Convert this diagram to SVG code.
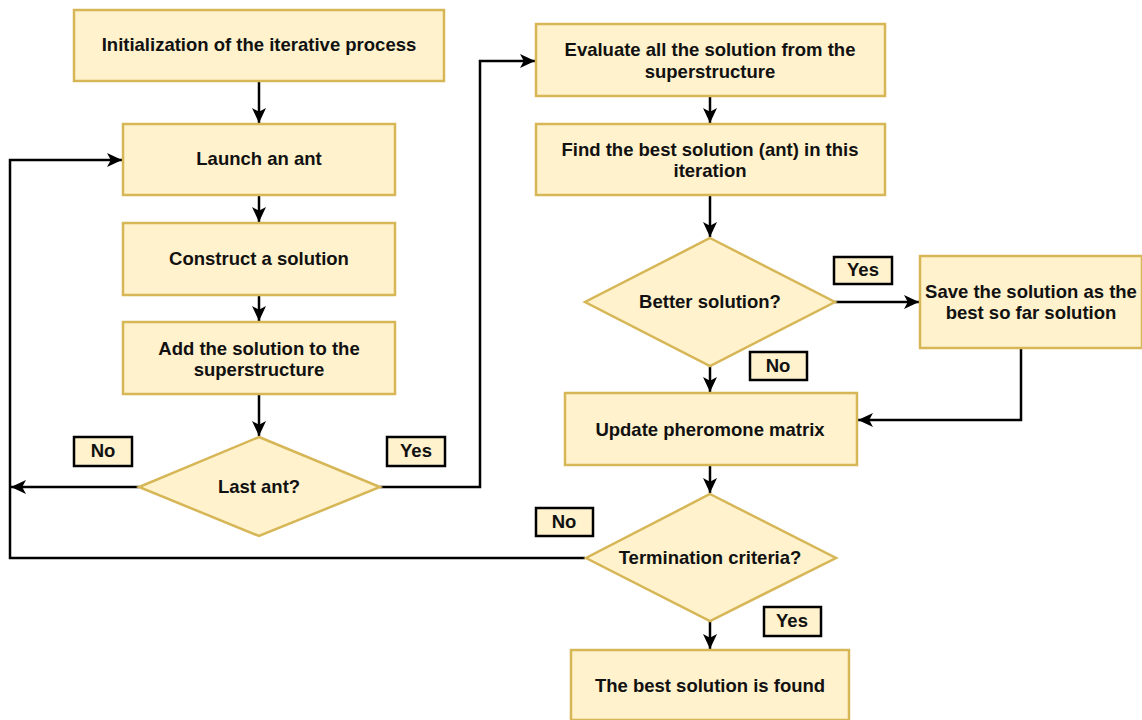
<svg xmlns="http://www.w3.org/2000/svg" width="1142" height="720" viewBox="0 0 1142 720">
  <style>
    .box { fill: #fff2cc; stroke: #d6b656; stroke-width: 2.5; }
    .tag { fill: #fff2cc; stroke: #000; stroke-width: 2.5; }
    .txt { font-family: "Liberation Sans", Arial, sans-serif; font-weight: bold; font-size: 18.5px; fill: #111; text-anchor: middle; }
    .edge { fill: none; stroke: #000; stroke-width: 2.5; }
  </style>
  <defs>
    <marker id="arrow" viewBox="0 0 15 15" refX="15" refY="7.5" markerWidth="15" markerHeight="15" markerUnits="userSpaceOnUse" orient="auto">
      <path d="M0,0.5 L15,7.5 L0,14.5 L3.8,7.5 Z" fill="#000"/>
    </marker>
  </defs>
  <rect width="1142" height="720" fill="#fff"/>

  <!-- connectors -->
  <g id="connectors">
    <path class="edge" d="M259,81 V123" marker-end="url(#arrow)"/>
    <path class="edge" d="M259,195 V222" marker-end="url(#arrow)"/>
    <path class="edge" d="M259,295 V321" marker-end="url(#arrow)"/>
    <path class="edge" d="M259,394 V436" marker-end="url(#arrow)"/>
    <path class="edge" d="M139,487 H11" marker-end="url(#arrow)"/>
    <path class="edge" d="M380,487 H480 V61 H535" marker-end="url(#arrow)"/>
    <path class="edge" d="M585,558 H10 V160 H122" marker-end="url(#arrow)"/>
    <path class="edge" d="M710,96 V123" marker-end="url(#arrow)"/>
    <path class="edge" d="M710,195 V237" marker-end="url(#arrow)"/>
    <path class="edge" d="M835,302 H919" marker-end="url(#arrow)"/>
    <path class="edge" d="M710,366 V392" marker-end="url(#arrow)"/>
    <path class="edge" d="M1021,348 V420 H858" marker-end="url(#arrow)"/>
    <path class="edge" d="M710,465 V493" marker-end="url(#arrow)"/>
    <path class="edge" d="M710,621 V649" marker-end="url(#arrow)"/>
  </g>

  <g id="init">
    <rect class="box" x="74" y="10" width="370" height="71"/>
    <text class="txt" x="259" y="51">Initialization of the iterative process</text>
  </g>
  <g id="launch">
    <rect class="box" x="123" y="124" width="272" height="71"/>
    <text class="txt" x="259" y="165">Launch an ant</text>
  </g>
  <g id="construct">
    <rect class="box" x="123" y="223" width="272" height="72"/>
    <text class="txt" x="259" y="265">Construct a solution</text>
  </g>
  <g id="add">
    <rect class="box" x="123" y="322" width="272" height="72"/>
    <text class="txt" x="259" y="355">Add the solution to the</text>
    <text class="txt" x="259" y="376">superstructure</text>
  </g>
  <g id="last-ant">
    <polygon class="box" points="259,437 380,487 259,536 139,487"/>
    <text class="txt" x="259" y="493">Last ant?</text>
  </g>
  <g id="evaluate">
    <rect class="box" x="536" y="24" width="349" height="72"/>
    <text class="txt" x="710" y="56">Evaluate all the solution from the</text>
    <text class="txt" x="710" y="78">superstructure</text>
  </g>
  <g id="find-best">
    <rect class="box" x="536" y="124" width="349" height="71"/>
    <text class="txt" x="710" y="156">Find the best solution (ant) in this</text>
    <text class="txt" x="710" y="177">iteration</text>
  </g>
  <g id="better">
    <polygon class="box" points="710,238 835,302 710,366 585,302"/>
    <text class="txt" x="710" y="308">Better solution?</text>
  </g>
  <g id="save">
    <rect class="box" x="920" y="256" width="222" height="92"/>
    <text class="txt" x="1031" y="298">Save the solution as the</text>
    <text class="txt" x="1031" y="319">best so far solution</text>
  </g>
  <g id="update">
    <rect class="box" x="565" y="393" width="292" height="72"/>
    <text class="txt" x="710" y="436">Update pheromone matrix</text>
  </g>
  <g id="termination">
    <polygon class="box" points="710,494 836,558 710,621 586,558"/>
    <text class="txt" x="710" y="564">Termination criteria?</text>
  </g>
  <g id="found">
    <rect class="box" x="571" y="650" width="278" height="70"/>
    <text class="txt" x="710" y="692">The best solution is found</text>
  </g>

  <!-- branch tags -->
  <g id="tag-no-last">
    <rect class="tag" x="74" y="437" width="58" height="29"/>
    <text class="txt" x="103" y="457">No</text>
  </g>
  <g id="tag-yes-last">
    <rect class="tag" x="387" y="437" width="58" height="29"/>
    <text class="txt" x="416" y="457">Yes</text>
  </g>
  <g id="tag-yes-better">
    <rect class="tag" x="834" y="257" width="58" height="27"/>
    <text class="txt" x="863" y="276">Yes</text>
  </g>
  <g id="tag-no-better">
    <rect class="tag" x="750" y="352" width="57" height="28"/>
    <text class="txt" x="778" y="372">No</text>
  </g>
  <g id="tag-no-term">
    <rect class="tag" x="536" y="508" width="57" height="28"/>
    <text class="txt" x="564" y="528">No</text>
  </g>
  <g id="tag-yes-term">
    <rect class="tag" x="764" y="607" width="57" height="29"/>
    <text class="txt" x="792" y="627">Yes</text>
  </g>
</svg>
